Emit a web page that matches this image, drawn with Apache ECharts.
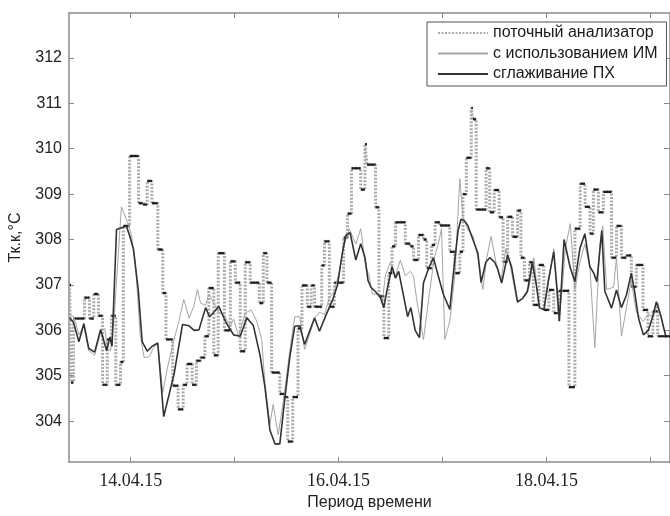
<!DOCTYPE html>
<html>
<head>
<meta charset="utf-8">
<script src="https://cdn.jsdelivr.net/npm/echarts/dist/echarts.min.js"></script>
<style>html,body{margin:0;padding:0;background:#fff}#c{width:670px;height:516px}</style>
</head>
<body>
<div id="c"></div>
<script>
// x values are days of April 2015 (14.0 = 14.04.15 00:00)
const xTickDays = [14, 15, 16, 17, 18, 19];
const xLabelDays = [14, 16, 18];
const xLabels = ['14.04.15', '16.04.15', '18.04.15'];
const yTicks = [304, 305, 306, 307, 308, 309, 310, 311, 312];
const seriesNames = ['поточный анализатор', 'с использованием ИМ', 'сглаживание ПХ'];

const analyzerTime = [
  13.413,13.426,13.450,13.556,13.604,13.645,13.690,13.730,13.775,13.816,
  13.857,13.902,13.930,13.990,14.076,14.118,14.159,14.204,14.261,14.309,
  14.340,14.404,14.457,14.505,14.543,14.592,14.632,14.673,14.714,14.752,
  14.800,14.842,14.902,14.959,15.007,15.054,15.102,15.150,15.238,15.276,
  15.311,15.356,15.435,15.483,15.511,15.559,15.610,15.648,15.699,15.737,
  15.769,15.838,15.864,15.911,15.959,16.048,16.086,16.124,16.213,16.254,
  16.273,16.356,16.388,16.436,16.483,16.514,16.547,16.642,16.690,16.721,
  16.769,16.817,16.848,16.895,16.928,16.975,17.070,17.118,17.166,17.197,
  17.229,17.276,17.292,17.324,17.419,17.454,17.497,17.545,17.583,17.626,
  17.673,17.721,17.754,17.788,17.835,17.873,17.928,17.975,18.023,18.070,
  18.118,18.216,18.273,18.324,18.371,18.419,18.451,18.499,18.547,18.626,
  18.673,18.721,18.769,18.816,18.864,18.928,18.975,19.023,19.070
];
const analyzerValue = [
  307.0,304.85,306.26,306.72,306.26,306.8,306.32,304.8,305.8,306.32,
  304.8,305.3,308.3,309.84,308.8,308.77,309.29,308.8,307.78,306.82,
  305.8,304.78,304.26,304.8,305.26,304.8,305.33,305.4,305.87,306.93,
  305.45,307.7,306.0,307.52,307.05,305.54,307.5,307.05,306.6,307.7,
  307.05,305.07,304.6,304.53,303.55,304.53,306.04,306.99,306.52,306.99,
  306.52,307.43,307.96,306.52,307.05,308.04,308.57,309.57,309.1,310.1,
  309.65,308.71,306.75,305.83,307.26,307.85,308.38,307.91,307.85,307.55,
  308.1,308.0,307.37,307.88,308.38,308.31,307.73,307.26,307.73,309.0,
  309.8,310.9,310.65,308.66,309.57,308.6,309.09,308.49,307.51,308.5,
  308.06,308.64,307.6,307.1,307.5,306.56,307.44,306.45,306.89,306.38,
  306.87,304.75,308.24,309.23,308.72,308.13,309.1,308.6,309.05,307.6,
  308.3,307.6,307.65,306.96,307.44,306.45,305.87,306.42,305.87
];

const imTime = [
  13.413,13.454,13.502,13.550,13.597,13.654,13.711,13.750,13.778,13.807,
  13.848,13.911,13.975,14.007,14.045,14.092,14.130,14.181,14.216,14.261,
  14.309,14.356,14.407,14.464,14.511,14.562,14.610,14.642,14.673,14.721,
  14.752,14.800,14.845,14.893,14.959,14.990,15.038,15.102,15.159,15.213,
  15.261,15.292,15.340,15.371,15.419,15.467,15.530,15.578,15.626,15.673,
  15.721,15.769,15.816,15.864,15.911,15.959,16.007,16.054,16.102,16.166,
  16.213,16.261,16.292,16.324,16.388,16.419,16.451,16.499,16.547,16.594,
  16.642,16.690,16.721,16.750,16.817,16.873,16.921,16.959,16.990,17.022,
  17.070,17.118,17.166,17.197,17.245,17.292,17.340,17.388,17.426,17.467,
  17.514,17.562,17.610,17.645,17.721,17.769,17.832,17.879,17.927,17.975,
  18.022,18.070,18.118,18.150,18.181,18.229,18.273,18.321,18.369,18.417,
  18.465,18.513,18.541,18.579,18.645,18.673,18.721,18.769,18.816,18.864,
  18.930,18.978,19.026,19.074,19.121,19.150
];
const imValue = [
  306.35,306.3,305.9,306.1,305.55,305.45,305.95,306.05,305.6,305.55,
  306.5,308.72,308.35,308.1,307.5,305.9,305.4,305.42,305.6,305.7,
  304.63,305.2,305.7,306.2,306.68,306.27,306.55,306.9,306.6,306.55,
  306.8,306.6,306.4,306.35,306.1,306.25,305.88,306.38,306.45,306.2,
  305.8,304.82,303.93,304.37,303.7,304.4,305.54,306.3,306.3,305.58,
  305.9,306.27,306.4,306.35,306.71,306.86,307.3,307.88,308.24,307.9,
  308.24,307.4,307.22,306.8,306.8,306.6,307.22,307.5,307.2,307.55,
  307.2,307.3,307.2,306.7,305.8,306.8,307.6,307.9,308.24,305.8,
  306.2,307.2,309.34,308.5,308.2,308.09,307.6,306.9,307.6,308.07,
  307.5,307.1,307.8,307.5,306.6,306.7,306.95,307.6,306.5,306.45,
  307.1,307.8,306.2,306.86,307.8,308.35,306.9,307.5,307.9,307.4,
  305.62,307.9,308.3,306.9,306.95,307.6,305.87,306.5,307.1,306.4,
  306.2,306.35,306.3,306.6,306.1,305.9
];

const pxTime = [
  13.413,13.451,13.502,13.550,13.597,13.654,13.711,13.769,13.800,13.821,
  13.864,13.911,13.959,13.988,14.026,14.073,14.111,14.159,14.207,14.261,
  14.318,14.419,14.499,14.562,14.610,14.657,14.721,14.759,14.800,14.848,
  14.911,14.990,15.054,15.118,15.181,15.245,15.292,15.340,15.388,15.435,
  15.483,15.530,15.578,15.626,15.673,15.721,15.769,15.816,15.880,15.943,
  15.990,16.038,16.070,16.111,16.166,16.213,16.254,16.283,16.311,16.356,
  16.404,16.435,16.467,16.514,16.547,16.578,16.626,16.664,16.695,16.737,
  16.778,16.817,16.864,16.912,16.959,17.007,17.070,17.111,17.150,17.178,
  17.216,17.245,17.292,17.340,17.371,17.416,17.454,17.502,17.530,17.569,
  17.626,17.664,17.721,17.769,17.816,17.864,17.902,17.933,17.975,18.016,
  18.070,18.102,18.124,18.169,18.226,18.273,18.321,18.369,18.417,18.455,
  18.484,18.532,18.561,18.626,18.673,18.721,18.769,18.816,18.846,18.885,
  18.932,18.980,19.026,19.057,19.102,19.150
];
const pxValue = [
  306.28,306.17,305.75,306.15,305.6,305.52,306.02,305.55,305.85,305.65,
  308.22,308.26,308.3,308.1,307.8,306.9,305.75,305.54,305.65,305.72,
  304.1,305.05,306.13,306.1,306.0,306.01,306.5,306.3,306.4,306.53,
  306.2,305.9,305.87,306.28,306.1,305.45,304.75,303.8,303.5,303.5,
  304.5,305.4,306.09,306.1,305.69,305.98,306.27,305.98,306.34,306.67,
  307.0,307.73,308.09,308.15,307.55,307.91,307.6,307.1,306.95,306.85,
  306.72,306.5,306.9,307.4,307.15,307.3,306.75,306.3,306.5,306.0,
  305.84,307.05,307.35,307.6,307.2,306.8,306.46,307.4,308.2,308.45,
  308.4,308.3,308.0,307.7,307.05,307.5,307.6,307.5,307.35,307.04,
  307.66,307.4,306.63,306.7,306.85,307.5,307.0,306.5,306.45,307.07,
  307.73,306.9,306.2,308.0,307.4,307.07,307.8,308.13,307.4,307.26,
  307.07,308.2,306.86,306.49,306.89,306.5,306.78,307.26,306.88,306.27,
  305.9,306.0,306.34,306.63,306.3,305.84
];

const X_MIN = 13.407, X_MAX = 19.188;
const Y_MIN = 303.1, Y_MAX = 312.99;

const pairs = (t, v) => t.map((x, i) => [x, v[i]]);
const plateaus = analyzerTime.map((t, i) => [t, analyzerValue[i], i + 1 < analyzerTime.length ? analyzerTime[i + 1] : X_MAX]);

const axisColor = '#8a8a8a';
const sans = 'Liberation Sans, Arial, sans-serif';

const chart = echarts.init(document.getElementById('c'), null, {renderer: 'canvas'});
chart.setOption({
  animation: false,
  backgroundColor: '#fff',
  grid: {left: 67, top: 13, right: -4, bottom: 51, containLabel: false},
  legend: {
    data: seriesNames,
    orient: 'vertical',
    left: 427, top: 22,
    itemWidth: 50, itemHeight: 16, itemGap: 4.5,
    padding: [3, 9, 4, 10],
    borderColor: '#555', borderWidth: 1, borderRadius: 0,
    backgroundColor: '#fff',
    selectedMode: false,
    itemStyle: {opacity: 0, borderWidth: 0},
    textStyle: {fontFamily: sans, fontSize: 16, color: '#1a1a1a'}
  },
  xAxis: [{
    type: 'value', min: X_MIN, max: X_MAX, position: 'bottom',
    axisLine: {show: true, onZero: false, lineStyle: {color: axisColor, width: 1.5}},
    axisTick: {show: true, inside: true, length: 5, customValues: xTickDays, lineStyle: {color: axisColor, width: 1}},
    axisLabel: {
      show: true, customValues: xLabelDays, margin: 10,
      formatter: v => xLabels[xLabelDays.indexOf(Math.round(v))] || '',
      fontFamily: 'Liberation Serif, Times New Roman, serif', fontSize: 18, color: '#222'
    },
    splitLine: {show: false},
    name: 'Период времени', nameLocation: 'middle', nameGap: 33,
    nameTextStyle: {fontFamily: sans, fontSize: 16, color: '#222'}
  }, {
    type: 'value', min: X_MIN, max: X_MAX, position: 'top',
    axisLine: {show: true, onZero: false, lineStyle: {color: axisColor, width: 1.5}},
    axisTick: {show: true, inside: true, length: 5, customValues: xTickDays, lineStyle: {color: axisColor, width: 1}},
    axisLabel: {show: false},
    splitLine: {show: false}
  }],
  yAxis: [{
    type: 'value', min: Y_MIN, max: Y_MAX, position: 'left',
    axisLine: {show: true, onZero: false, lineStyle: {color: axisColor, width: 1.5}},
    axisTick: {show: true, inside: true, length: 5, customValues: yTicks, lineStyle: {color: axisColor, width: 1}},
    axisLabel: {show: true, customValues: yTicks, margin: 7, fontFamily: sans, fontSize: 16, color: '#222'},
    splitLine: {show: false},
    name: 'Тк.к,°C', nameLocation: 'middle', nameGap: 45, nameRotate: 90,
    nameTextStyle: {fontFamily: sans, fontSize: 16, color: '#222'}
  }, {
    type: 'value', min: Y_MIN, max: Y_MAX, position: 'right',
    axisLine: {show: true, onZero: false, lineStyle: {color: axisColor, width: 1.5}},
    axisTick: {show: true, inside: true, length: 6, customValues: yTicks, lineStyle: {color: axisColor, width: 1}},
    axisLabel: {show: false},
    splitLine: {show: false}
  }],
  series: [
    {
      name: seriesNames[0], type: 'line', step: 'end',
      data: pairs(analyzerTime, analyzerValue),
      symbol: 'none', z: 2,
      itemStyle: {color: '#ababab'},
      lineStyle: {color: '#ababab', width: 3, type: [2, 1.5]}
    },
    {
      name: 'plateaus', type: 'custom', z: 3, silent: true, clip: true,
      data: plateaus,
      encode: {x: [0, 2], y: 1},
      renderItem: (params, api) => {
        const y = api.value(1);
        const p0 = api.coord([api.value(0), y]);
        const p1 = api.coord([api.value(2), y]);
        return {type: 'line', shape: {x1: p0[0], y1: p0[1], x2: p1[0], y2: p1[1]},
                style: {stroke: '#1e1e1e', lineWidth: 2.2}};
      }
    },
    {
      name: seriesNames[1], type: 'line', data: pairs(imTime, imValue),
      symbol: 'none', z: 4,
      itemStyle: {color: '#a5a5a5'},
      lineStyle: {color: '#a5a5a5', width: 1}
    },
    {
      name: seriesNames[2], type: 'line', data: pairs(pxTime, pxValue),
      symbol: 'none', z: 5,
      itemStyle: {color: '#333333'},
      lineStyle: {color: '#333333', width: 1.6}
    }
  ]
});
</script>
</body>
</html>
